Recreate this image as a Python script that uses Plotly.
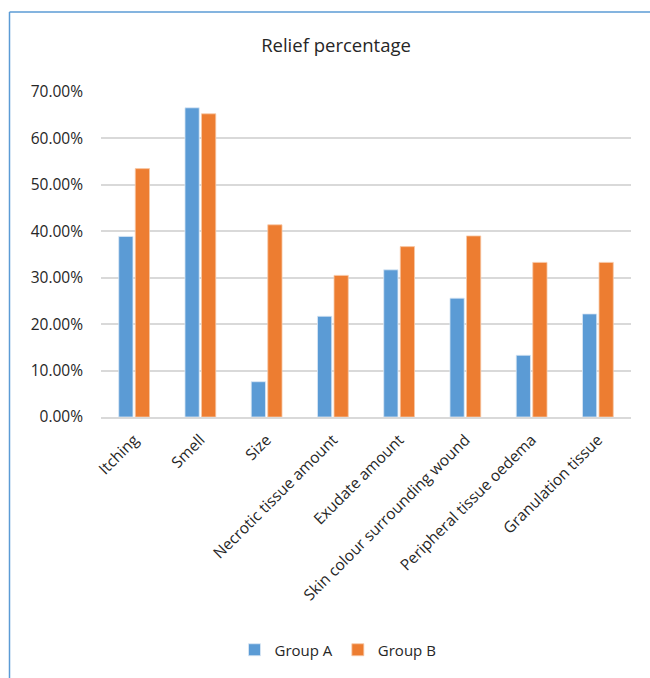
import plotly.graph_objects as go

categories = ["Itching", "Smell", "Size", "Necrotic tissue amount", "Exudate amount",
              "Skin colour surrounding wound", "Peripheral tissue oedema", "Granulation tissue"]
group_a = [0.389, 0.666, 0.076, 0.217, 0.317, 0.256, 0.133, 0.222]
group_b = [0.535, 0.653, 0.414, 0.305, 0.367, 0.390, 0.333, 0.333]
tick_vals = [0, 0.1, 0.2, 0.3, 0.4, 0.5, 0.6, 0.7]
tick_text = ["0.00%", "10.00%", "20.00%", "30.00%", "40.00%", "50.00%", "60.00%", "70.00%"]

FONT = "Open Sans"
TXT = "#262626"
fig = go.Figure()
fig.add_trace(go.Bar(x=categories, y=group_a, name="Group A", marker_color="#5B9BD5",
                     marker_line=dict(color="#DCE9F5", width=0.8)))
fig.add_trace(go.Bar(x=categories, y=group_b, name="Group B", marker_color="#ED7D31",
                     marker_line=dict(color="#F8C9A8", width=0.8)))

L, R, T, B = 101, 19, 92, 261
W, H = 650, 678
pw, ph = W - L - R, H - T - B

def px_x(x):
    return (x - L) / pw

def px_y(y):
    return (H - B - y) / ph

fig.update_layout(
    width=W, height=H,
    margin=dict(l=L, r=R, t=T, b=B),
    paper_bgcolor="white", plot_bgcolor="white",
    barmode="group", bargap=0.5, bargroupgap=0.14,
    font=dict(family=FONT, size=14, color=TXT),
    title=dict(text="Relief percentage", x=px_x(336), xref="paper", xanchor="center",
               y=1 - 46 / H, yref="container", yanchor="middle",
               font=dict(family=FONT, size=18.5, color=TXT)),
    xaxis=dict(tickangle=-45, showgrid=False, showline=True, linecolor="#D9D9D9",
               linewidth=1.5, ticks="", ticklabelstandoff=6,
               tickfont=dict(family=FONT, size=15.5, color=TXT)),
    yaxis=dict(range=[0, 0.70], tickvals=tick_vals, ticktext=tick_text,
               showgrid=True, gridcolor="#D9D9D9", gridwidth=1.5, zeroline=False,
               ticks="", ticklabelstandoff=17,
               tickfont=dict(family=FONT, size=15.5, color=TXT)),
    legend=dict(orientation="h", x=px_x(338), xanchor="center", y=px_y(650), yanchor="middle",
                font=dict(family=FONT, size=15, color=TXT), itemwidth=30),
    showlegend=True,
)

border = "#5B9BD5"
fig.add_shape(type="line", xref="paper", yref="paper",
              x0=px_x(9.5), x1=px_x(650), y0=px_y(12), y1=px_y(12),
              line=dict(color=border, width=1.5))
fig.add_shape(type="line", xref="paper", yref="paper",
              x0=px_x(9.5), x1=px_x(9.5), y0=px_y(12), y1=px_y(678),
              line=dict(color=border, width=1.5))

fig.write_html("out.html")
